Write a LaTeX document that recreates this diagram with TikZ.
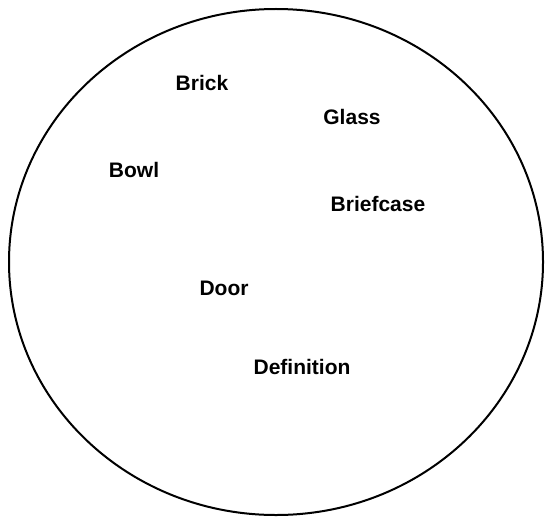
\documentclass[tikz,border=0pt]{standalone}
\usepackage{fontspec}
\setmainfont{Liberation Sans}
\begin{document}
\begin{tikzpicture}[x=1pt,y=-1pt,
  word/.style={font=\bfseries\fontsize{21}{24}\selectfont, inner sep=0pt}]
\useasboundingbox (0,0) rectangle (545,516);
\draw[line width=2pt] (276,262) ellipse [x radius=267, y radius=253];
\node[word] (brick) at (202,83) {Brick};
\node[word] (glass) at (352,117) {Glass};
\node[word] (bowl) at (134,170) {Bowl};
\node[word] (briefcase) at (378,204) {Briefcase};
\node[word] (door) at (224,288) {Door};
\node[word] (definition) at (302,367) {Definition};
\end{tikzpicture}
\end{document}
